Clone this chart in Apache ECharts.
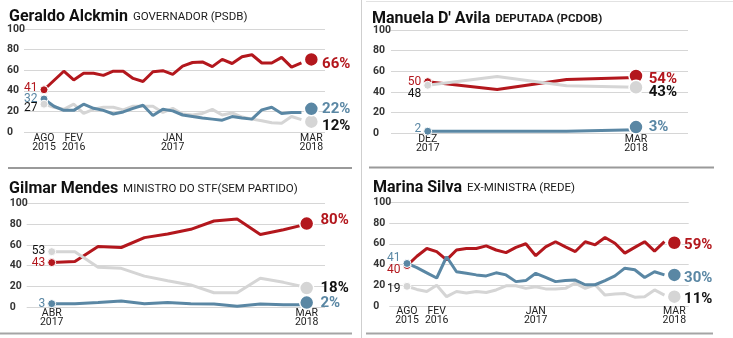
<!DOCTYPE html>
<html><head><meta charset="utf-8">
<script src="https://cdn.jsdelivr.net/npm/echarts@6/dist/echarts.min.js"></script>
<style>html,body{margin:0;padding:0;background:#fff}#c{width:733px;height:338px}</style>
</head><body><div id="c"></div>
<script>
// ---------- DATA ----------
// Geraldo Alckmin (survey index 0..27, AGO 2015 .. MAR 2018)
const alckTickIdx = [0, 3, 13, 27];
const alckTickLabels = ['AGO\n2015', 'FEV\n2016', 'JAN\n2017', 'MAR\n2018'];
const alckRed  = [41, 50, 59, 50.5, 57, 57, 55, 59, 59, 52, 49, 58.5, 59.5, 56, 64, 67.5, 68, 63.5, 70.5, 66.5, 73, 75, 67, 67, 72.5, 63, 67];
const alckBlue = [32, 25, 21, 21, 27, 23, 21, 17.5, 19.5, 23, 26, 16, 22, 20.5, 16.5, 15, 13.5, 12.5, 11.5, 15, 13.5, 12.5, 21.5, 24, 18, 19, 19];
const alckGray = [27, 24, 22, 27, 18, 22, 24, 24, 21.5, 25, 25, 25, 19, 23, 17.5, 16.5, 18, 22, 16.5, 18.5, 14.5, 12.5, 11, 9, 8.5, 15, 12];
const alckEndDots = [70.5, 22.5, 10];      // red, blue, gray
const alckStartText = [41, 32, 27];
const alckEndText = [66, 22, 12];

// Manuela D' Avila (index 0..3, DEZ 2017 .. MAR 2018)
const manuTickIdx = [0, 3];
const manuTickLabels = ['DEZ\n2017', 'MAR\n2018'];
const manuRed  = [50, 42.5, 52, 54];
const manuBlue = [2, 2, 2, 3.5];
const manuGray = [46.5, 55, 46, 44.5];
const manuEndDots = [55.5, 6, 44.5];
const manuStartText = [50, 2, 48];
const manuEndText = [54, 3, 43];

// Gilmar Mendes (index 0..11, ABR 2017 .. MAR 2018)
const gilTickIdx = [0, 11];
const gilTickLabels = ['ABR\n2017', 'MAR\n2018'];
const gilRed  = [43, 44, 58.5, 57.5, 67, 70.5, 75, 83, 85, 70, 74.5, 80];
const gilBlue = [3.5, 3.5, 4.5, 6, 3.5, 4.5, 3.5, 3.2, 1, 3.2, 2.5, 2.5];
const gilGray = [53.5, 53.5, 38.5, 37.5, 30, 25.5, 21.5, 14, 14, 28, 24, 19];
const gilEndDots = [80.5, 4.5, 18.5];
const gilStartText = [43, 3, 53];
const gilEndText = [80, 2, 18];

// Marina Silva (index 0..27, AGO 2015 .. MAR 2018)
const marTickIdx = [0, 3, 13, 27];
const marTickLabels = ['AGO\n2015', 'FEV\n2016', 'JAN\n2017', 'MAR\n2018'];
const marRed  = [39, 48, 55.5, 52.5, 44.5, 54, 55.5, 55.5, 58, 54, 51.5, 56.5, 60, 48.5, 57, 62, 57, 52.5, 62, 59, 66, 60.5, 51, 56.5, 62, 53, 62];
const marBlue = [41, 37, 32, 27, 47.5, 33, 31.5, 30, 29, 32, 30, 23.5, 24.5, 31.5, 27.5, 23.5, 24.5, 25, 20.5, 20.5, 24.5, 29, 36.5, 35, 27.5, 33, 30];
const marGray = [19, 16, 14, 20, 9, 14, 12.5, 14, 13, 15.5, 19.5, 19.5, 17, 18.5, 16.5, 16.5, 17, 22, 17, 20.5, 10.5, 11.5, 12, 8.5, 9, 15.5, 10.5];
const marEndDots = [61, 30, 9];
const marStartText = [40, 41, 19];
const marEndText = [59, 30, 11];

// ---------- STYLE / LAYOUT ----------
const RED = '#b3171d', BLUE = '#5a87a4', GRAY = '#d5d5d5';
const FONT = 'Roboto';

const panels = [
  { grid: {left: 24, top: 29, width: 301, height: 103}, xmin: -2.02, xmax: 28.38, lab: 17, xm: 2,
    ticks: alckTickIdx, tickLabels: alckTickLabels, series: [alckRed, alckBlue, alckGray],
    endIdx: 27, endDots: alckEndDots, startText: alckStartText, endText: alckEndText,
    startOff: [-2, 0, 4], endOff: [5, 0, 5], startZ: [3, 4, 5], endZ: [3, 5, 4], endDist: 3 },
  { grid: {left: 391, top: 30, width: 297, height: 103.3}, xmin: -0.529, xmax: 3.749, lab: 18, xm: 2,
    ticks: manuTickIdx, tickLabels: manuTickLabels, series: [manuRed, manuBlue, manuGray],
    endIdx: 3, endDots: manuEndDots, startText: manuStartText, endText: manuEndText,
    startOff: [0, -2, 9], endOff: [3, 0, 5], startZ: [3, 5, 4], endZ: [3, 5, 4], endDist: 5 },
  { grid: {left: 26.7, top: 203.3, width: 298.3, height: 104}, xmin: -1.079, xmax: 11.79, lab: 17, xm: 1.5,
    ticks: gilTickIdx, tickLabels: gilTickLabels, series: [gilRed, gilBlue, gilGray],
    endIdx: 11, endDots: gilEndDots, startText: gilStartText, endText: gilEndText,
    startOff: [0.5, 0, -1], endOff: [-3, 1, 0], startZ: [3, 5, 4], endZ: [3, 5, 4], endDist: 6 },
  { grid: {left: 389.3, top: 202.3, width: 299.4, height: 103.7}, xmin: -1.788, xmax: 28.45, lab: 16, xm: 1,
    ticks: marTickIdx, tickLabels: marTickLabels, series: [marRed, marBlue, marGray],
    endIdx: 27, endDots: marEndDots, startText: marStartText, endText: marEndText,
    startOff: [4, -5, 2.5], endOff: [3, 3, 3], startZ: [3, 5, 4], endZ: [3, 5, 4], endDist: 2 }
];

const colors = [RED, BLUE, GRAY];
const startTextColors = [RED, BLUE, '#111'];
const endTextColors = [RED, BLUE, '#111'];

const grids = [], xAxes = [], yAxes = [], series = [];
panels.forEach((p, gi) => {
  grids.push(p.grid);
  xAxes.push({
    type: 'value', gridIndex: gi, min: p.xmin, max: p.xmax,
    axisLine: {show: false}, axisTick: {show: false}, splitLine: {show: false},
    axisLabel: {
      customValues: p.ticks, margin: p.xm,
      formatter: v => { const k = p.ticks.indexOf(v); return k >= 0 ? p.tickLabels[k] : ''; },
      color: '#222', fontFamily: FONT, fontSize: 10.5, lineHeight: 9, verticalAlign: 'top'
    }
  });
  yAxes.push({
    type: 'value', gridIndex: gi, min: 0, max: 100, interval: 20,
    axisLine: {show: false}, axisTick: {show: false},
    splitLine: {lineStyle: {color: '#d6d6d6', width: 1}},
    axisLabel: {align: 'left', margin: p.lab, color: '#333', fontFamily: FONT, fontSize: 10.5, fontWeight: 'bold'}
  });
  p.series.forEach((arr, si) => {
    series.push({
      type: 'line', xAxisIndex: gi, yAxisIndex: gi, symbol: 'none', silent: true,
      data: arr.map((v, i) => [i, v]), z: 2 + (si === 0 ? 0 : si === 2 ? 0.5 : 1),
      lineStyle: {color: colors[si], width: 3}
    });
    series.push({
      type: 'scatter', xAxisIndex: gi, yAxisIndex: gi, symbolSize: 8, silent: true,
      data: [[0, arr[0]]], z: p.startZ[si],
      itemStyle: {color: colors[si], borderColor: '#fff', borderWidth: 1, opacity: 1},
      label: {show: true, position: 'left', distance: 2, offset: [0, p.startOff[si]],
        formatter: () => String(p.startText[si]), color: startTextColors[si],
        fontFamily: FONT, fontSize: 12}
    });
    series.push({
      type: 'scatter', xAxisIndex: gi, yAxisIndex: gi, symbolSize: 14, silent: true,
      data: [[p.endIdx, p.endDots[si]]], z: p.endZ[si],
      itemStyle: {color: colors[si], borderColor: '#fff', borderWidth: 1.5, opacity: 1},
      label: {show: true, position: 'right', distance: p.endDist, offset: [0, p.endOff[si]],
        formatter: () => p.endText[si] + '%', color: endTextColors[si],
        fontFamily: FONT, fontSize: 15, fontWeight: 'bold'}
    });
  });
});

function ttl(left, top, a, b, bBold) {
  return {
    left, top, text: '{a|' + a + '} {b|' + b + '}',
    textStyle: {rich: {
      a: {fontFamily: FONT, fontSize: 16, fontWeight: 'bold', color: '#111'},
      b: {fontFamily: FONT, fontSize: 11.5, fontWeight: bBold ? 'bold' : 'normal', color: '#1a1a1a'}
    }}
  };
}

const chart = echarts.init(document.getElementById('c'), null, {renderer: 'canvas'});
chart.setOption({
  animation: false,
  backgroundColor: '#fff',
  title: [
    ttl(4, 3, 'Geraldo Alckmin', 'GOVERNADOR (PSDB)', false),
    ttl(367, 5, "Manuela D' Avila", 'DEPUTADA (PCDOB)', true),
    ttl(4, 175, 'Gilmar Mendes', 'MINISTRO DO STF(SEM PARTIDO)', false),
    ttl(368, 174, 'Marina Silva', 'EX-MINISTRA (REDE)', false)
  ],
  grid: grids, xAxis: xAxes, yAxis: yAxes, series,
  graphic: [
    {type: 'line', shape: {x1: 361.5, y1: 0, x2: 361.5, y2: 338}, style: {stroke: '#cfcfcf', lineWidth: 1}, silent: true},
    {type: 'line', shape: {x1: 366, y1: 1.5, x2: 733, y2: 1.5}, style: {stroke: '#e2e2e2', lineWidth: 1}, silent: true},
    {type: 'line', shape: {x1: 8, y1: 168, x2: 352, y2: 168}, style: {stroke: '#9a9a9a', lineWidth: 2}, silent: true},
    {type: 'line', shape: {x1: 369, y1: 167.5, x2: 714, y2: 167.5}, style: {stroke: '#9a9a9a', lineWidth: 2}, silent: true},
    {type: 'line', shape: {x1: 0, y1: 333.5, x2: 352, y2: 333.5}, style: {stroke: '#a5a5a5', lineWidth: 2}, silent: true},
    {type: 'line', shape: {x1: 366, y1: 333.5, x2: 713, y2: 333.5}, style: {stroke: '#a5a5a5', lineWidth: 2}, silent: true}
  ]
});
</script>
</body></html>
